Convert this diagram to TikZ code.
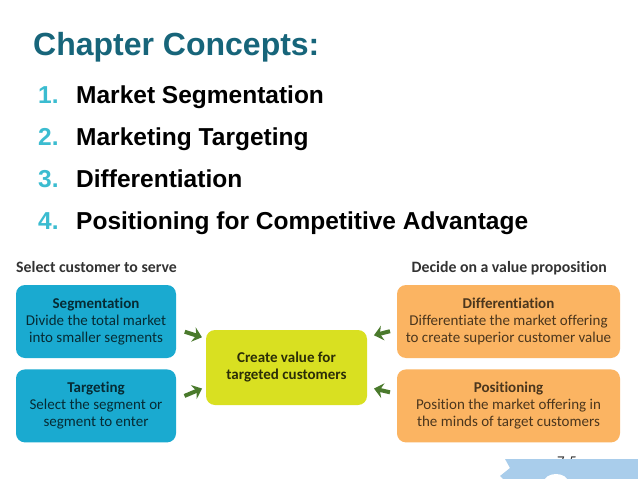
\documentclass[tikz,border=0pt]{standalone}
\usepackage{fontspec}
\usepackage{xcolor}
\usetikzlibrary{arrows.meta,positioning}
\newfontfamily\headfont{Liberation Sans}
\newfontfamily\figfont[Ligatures={NoCommon,NoRare,NoContextual}]{Carlito}
\definecolor{titleteal}{HTML}{17657A}
\definecolor{numcyan}{HTML}{3BBCD0}
\definecolor{segblue}{HTML}{1AAAD0}
\definecolor{valgreen}{HTML}{D9E021}
\definecolor{proporange}{HTML}{FBB462}
\definecolor{arrowgreen}{HTML}{4A7A2C}
\definecolor{bannerblue}{HTML}{A9CDEB}

\begin{document}
\begin{tikzpicture}[
      x=1pt, y=-1pt,
      title/.style={font=\headfont\bfseries\fontsize{32}{36}\selectfont, text=titleteal,
                    inner sep=0pt, anchor=base west},
      num/.style={font=\headfont\bfseries\fontsize{24.5}{28}\selectfont, text=numcyan,
                  inner sep=0pt, anchor=base west},
      item/.style={font=\headfont\bfseries\fontsize{24.5}{28}\selectfont, text=black,
                   inner sep=0pt, anchor=base west},
      hd/.style={font=\figfont\bfseries\fontsize{15.8}{18}\selectfont, text=black!80,
                 inner sep=0pt},
      box/.style={rounded corners=9pt, align=center, inner sep=2pt,
                  font=\figfont\fontsize{15}{17}\selectfont},
      bluebox/.style={box, fill=segblue, text=black!75!segblue,
                      minimum width=160pt, minimum height=73pt},
      orangebox/.style={box, fill=proporange, text=black!70!proporange,
                        minimum width=223pt, minimum height=73pt},
      greenbox/.style={box, fill=valgreen, text=black!80!valgreen,
                       minimum width=161pt, minimum height=75pt},
      garrow/.style={-{Stealth[length=9pt, width=15pt, inset=3pt]}, line width=4pt,
                     arrowgreen}
    ]
    \fill[white] (0,0) rectangle (638,479);
    \useasboundingbox (0,0) rectangle (638,479);
    % heading and list
    \node[title] (ttl) at (33,56) {Chapter Concepts:};
    \node[num] (n1) at (38,103) {1.};
    \node[num] (n2) at (38,145) {2.};
    \node[num] (n3) at (38,187) {3.};
    \node[num] (n4) at (38,229) {4.};
    \node[item] (it1) at (76,103) {Market Segmentation};
    \node[item] (it2) at (76,145) {Marketing Targeting};
    \node[item] (it3) at (76,187) {Differentiation};
    \node[item] (it4) at (76,229) {Positioning for Competitive Advantage};
    % left column
    \node[bluebox] (seg) at (96,321.5) {\textbf{Segmentation}\\Divide the total market\\into smaller segments};
    \node[bluebox, below=11pt of seg] (tgt) {\textbf{Targeting}\\Select the segment or\\segment to enter};
    \node[hd, anchor=base west] (hdsel) at (16,272) {Select customer to serve};
    % centre
    \node[greenbox] (val) at (286.5,367.5) {\textbf{Create value for}\\\textbf{targeted customers}};
    % right column
    \node[orangebox] (diff) at (508.5,321.5) {\textbf{Differentiation}\\Differentiate the market offering\\to create superior customer value};
    \node[orangebox, below=11pt of diff] (pos) {\textbf{Positioning}\\Position the market offering in\\the minds of target customers};
    \node[hd, anchor=base east] (hddec) at (607,272) {Decide on a value proposition};
    % arrows into the centre
    \draw[garrow, shorten <=9pt, shorten >=4pt] ([yshift=-7.5pt]seg.east) -- ([yshift=29pt]val.west);
    \draw[garrow, shorten <=9pt, shorten >=4pt] ([yshift=6.5pt]tgt.east) -- ([yshift=-19.5pt]val.west);
    \draw[garrow, shorten <=7pt, shorten >=7pt] ([yshift=-8pt]diff.west) -- ([yshift=30.5pt]val.east);
    \draw[garrow, shorten <=7pt, shorten >=7pt] ([yshift=12pt]pos.west) -- ([yshift=-19.5pt]val.east);
    % page tab
    \node[font=\figfont\fontsize{15}{17}\selectfont, text=black!80, inner sep=0pt] (pg) at (567,462) {7-5};
    \fill[bannerblue] (505,459) -- (638,459) -- (638,479) -- (503,479) -- (500,476) -- (510,468) -- cycle;
    \fill[white] (556,482) ellipse (12 and 8);
  \end{tikzpicture}
\end{document}
